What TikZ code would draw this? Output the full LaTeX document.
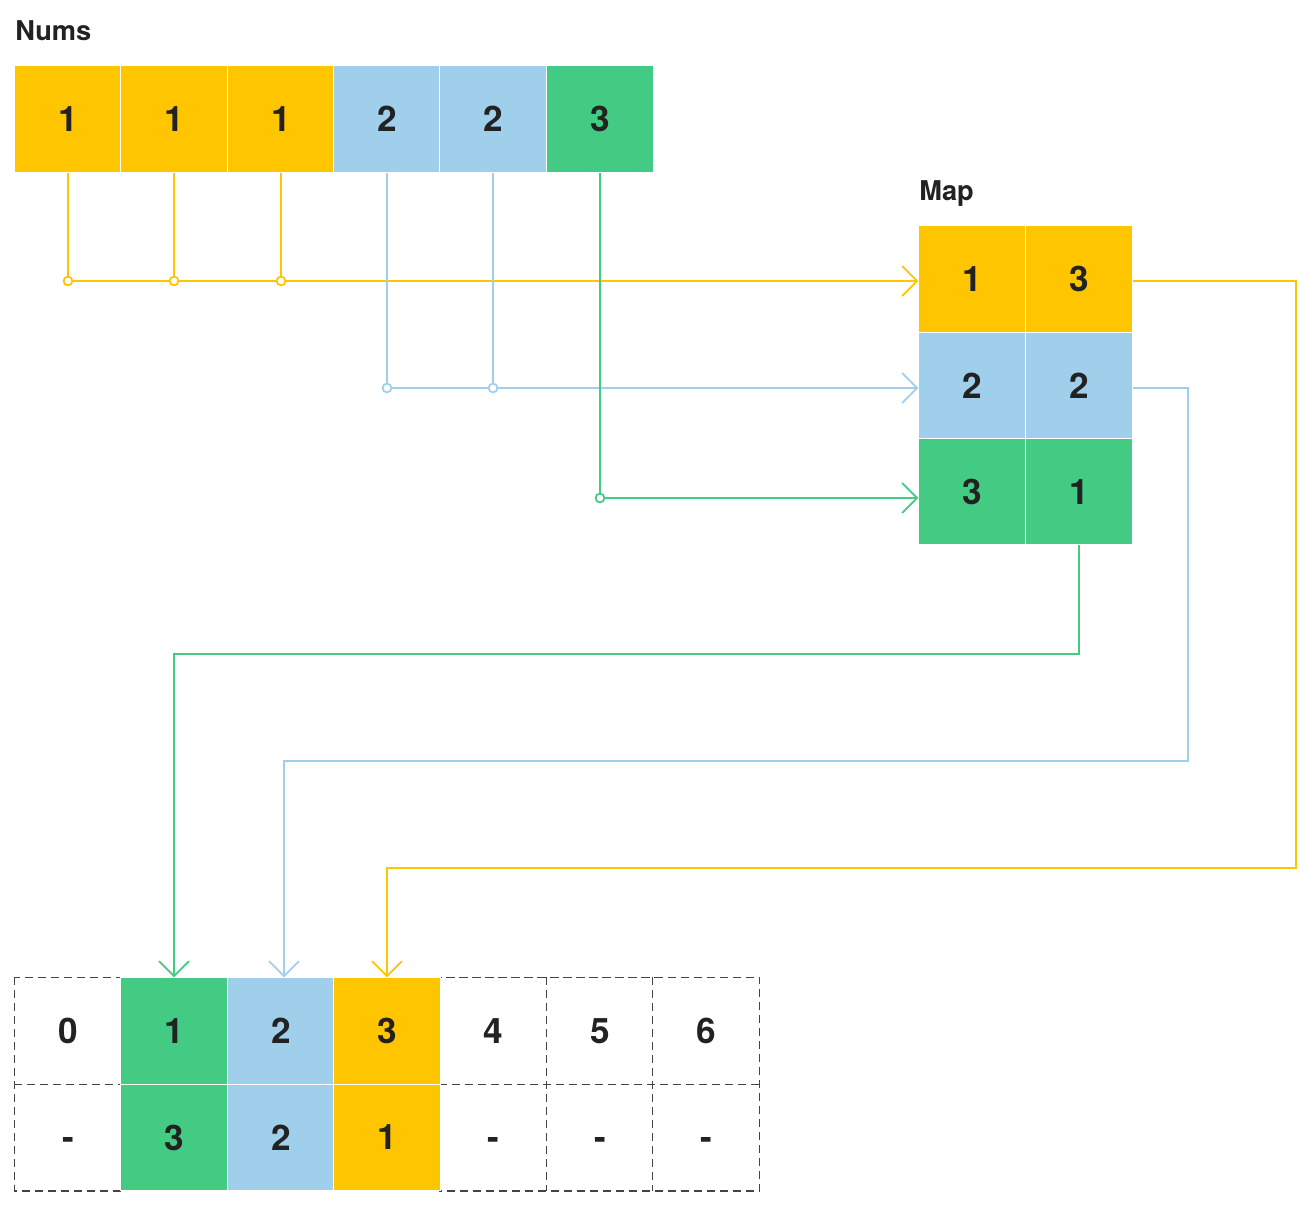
\documentclass[tikz,border=0pt]{standalone}
\usepackage{fontspec}
\setmainfont{TeX Gyre Heros}
\usetikzlibrary{arrows.meta}
\definecolor{cy}{HTML}{FFC600}
\definecolor{cb}{HTML}{9FCFEB}
\definecolor{cg}{HTML}{43CB84}
\definecolor{tx}{HTML}{222222}
\definecolor{dl}{HTML}{444444}
\begin{document}
\begin{tikzpicture}[x=0.02cm,y=-0.02cm,
  cell/.style={rectangle, draw=white, line width=0.6pt, minimum width=2.126cm, minimum height=2.126cm, inner sep=0pt, font=\fontsize{20}{24}\selectfont\bfseries, text=tx},
  ycell/.style={cell, fill=cy},
  bcell/.style={cell, fill=cb},
  gcell/.style={cell, fill=cg},
  ecell/.style={cell, draw=none},
  dline/.style={draw=dl, line width=0.8pt, dash pattern=on 4.6pt off 2.8pt},
  title/.style={anchor=base west, inner sep=0pt, font=\fontsize{15.5}{18}\selectfont\bfseries, text=tx},
  con/.style={line width=1pt},
  tip/.style={-{Straight Barb[length=8.5pt,width=17pt,line width=1pt]}},
  jdot/.style={circle, draw=#1, fill=white, line width=1pt, minimum size=5pt, inner sep=0pt}
]
\useasboundingbox (0,0) rectangle (1316,1211);

% titles
\node[title] (tnums) at (15,40) {Nums};
\node[title] (tmap) at (919,200) {Map};

% helper coordinates
\coordinate (yl) at (0,281);
\coordinate (bl) at (0,388);
\coordinate (gl) at (0,498);
\coordinate (yr) at (1296,0);
\coordinate (br) at (1188,0);
\coordinate (yh) at (0,868);
\coordinate (bh) at (0,761);
\coordinate (gh) at (0,654);
\coordinate (bx) at (284,0);

% Nums
\node[ycell] (n1) at (68,119) {1};
\node[ycell] (n2) at (174,119) {1};
\node[ycell] (n3) at (281,119) {1};
\node[bcell] (n4) at (387,119) {2};
\node[bcell] (n5) at (493,119) {2};
\node[gcell] (n6) at (600,119) {3};

% Map
\node[ycell] (m11) at (972,279) {1};
\node[ycell] (m12) at (1079,279) {3};
\node[bcell] (m21) at (972,385.3) {2};
\node[bcell] (m22) at (1079,385.3) {2};
\node[gcell] (m31) at (972,491.6) {3};
\node[gcell] (m32) at (1079,491.6) {1};

% bottom table
\node[ecell] (t0) at (68,1031) {0};
\node[ecell] (t4) at (493,1031) {4};
\node[ecell] (t5) at (600,1031) {5};
\node[ecell] (t6) at (706,1031) {6};
\node[ecell] (b0) at (68,1137.5) {\smash{\raisebox{-7pt}{-}}};
\node[ecell] (b4) at (493,1137.5) {\smash{\raisebox{-7pt}{-}}};
\node[ecell] (b5) at (600,1137.5) {\smash{\raisebox{-7pt}{-}}};
\node[ecell] (b6) at (706,1137.5) {\smash{\raisebox{-7pt}{-}}};
\draw[dline] (t0.north west) rectangle (b0.south east);
\draw[dline] (t0.south west) -- (t0.south east);
\draw[dline] (t4.north west) rectangle (b6.south east);
\draw[dline] (t4.south west) -- (t6.south east);
\draw[dline] (t5.north west) -- (b5.south west);
\draw[dline] (t6.north west) -- (b6.south west);
\node[gcell] (t1) at (174,1031) {1};
\node[bcell] (t2) at (281,1031) {2};
\node[ycell] (t3) at (387,1031) {3};
\node[gcell] (b1) at (174,1137.5) {3};
\node[bcell] (b2) at (281,1137.5) {2};
\node[ycell] (b3) at (387,1137.5) {1};

% input connectors
\draw[con, cy] (n1.south) -- (n1 |- yl);
\draw[con, cy] (n2.south) -- (n2 |- yl);
\draw[con, cy] (n3.south) -- (n3 |- yl);
\draw[con, cy, tip] (n1 |- yl) -- (m11.west |- yl);
\draw[con, cb] (n4.south) -- (n4 |- bl);
\draw[con, cb] (n5.south) -- (n5 |- bl);
\draw[con, cb, tip] (n4 |- bl) -- (m21.west |- bl);
\draw[con, cg, tip] (n6.south) -- (n6 |- gl) -- (m31.west |- gl);

\node[jdot=cy] (dy1) at (n1 |- yl) {};
\node[jdot=cy] (dy2) at (n2 |- yl) {};
\node[jdot=cy] (dy3) at (n3 |- yl) {};
\node[jdot=cb] (db1) at (n4 |- bl) {};
\node[jdot=cb] (db2) at (n5 |- bl) {};
\node[jdot=cg] (dg1) at (n6 |- gl) {};

% output connectors
\draw[con, cy, tip] (m12.east |- yl) -- (yr |- yl) -- (yr |- yh) -- (t3 |- yh) -- (t3.north);
\draw[con, cb, tip] (m22.east |- bl) -- (br |- bl) -- (br |- bh) -- (bx |- bh) -- (bx |- t2.north);
\draw[con, cg, tip] (m32.south) -- (m32 |- gh) -- (t1 |- gh) -- (t1.north);
\end{tikzpicture}
\end{document}
